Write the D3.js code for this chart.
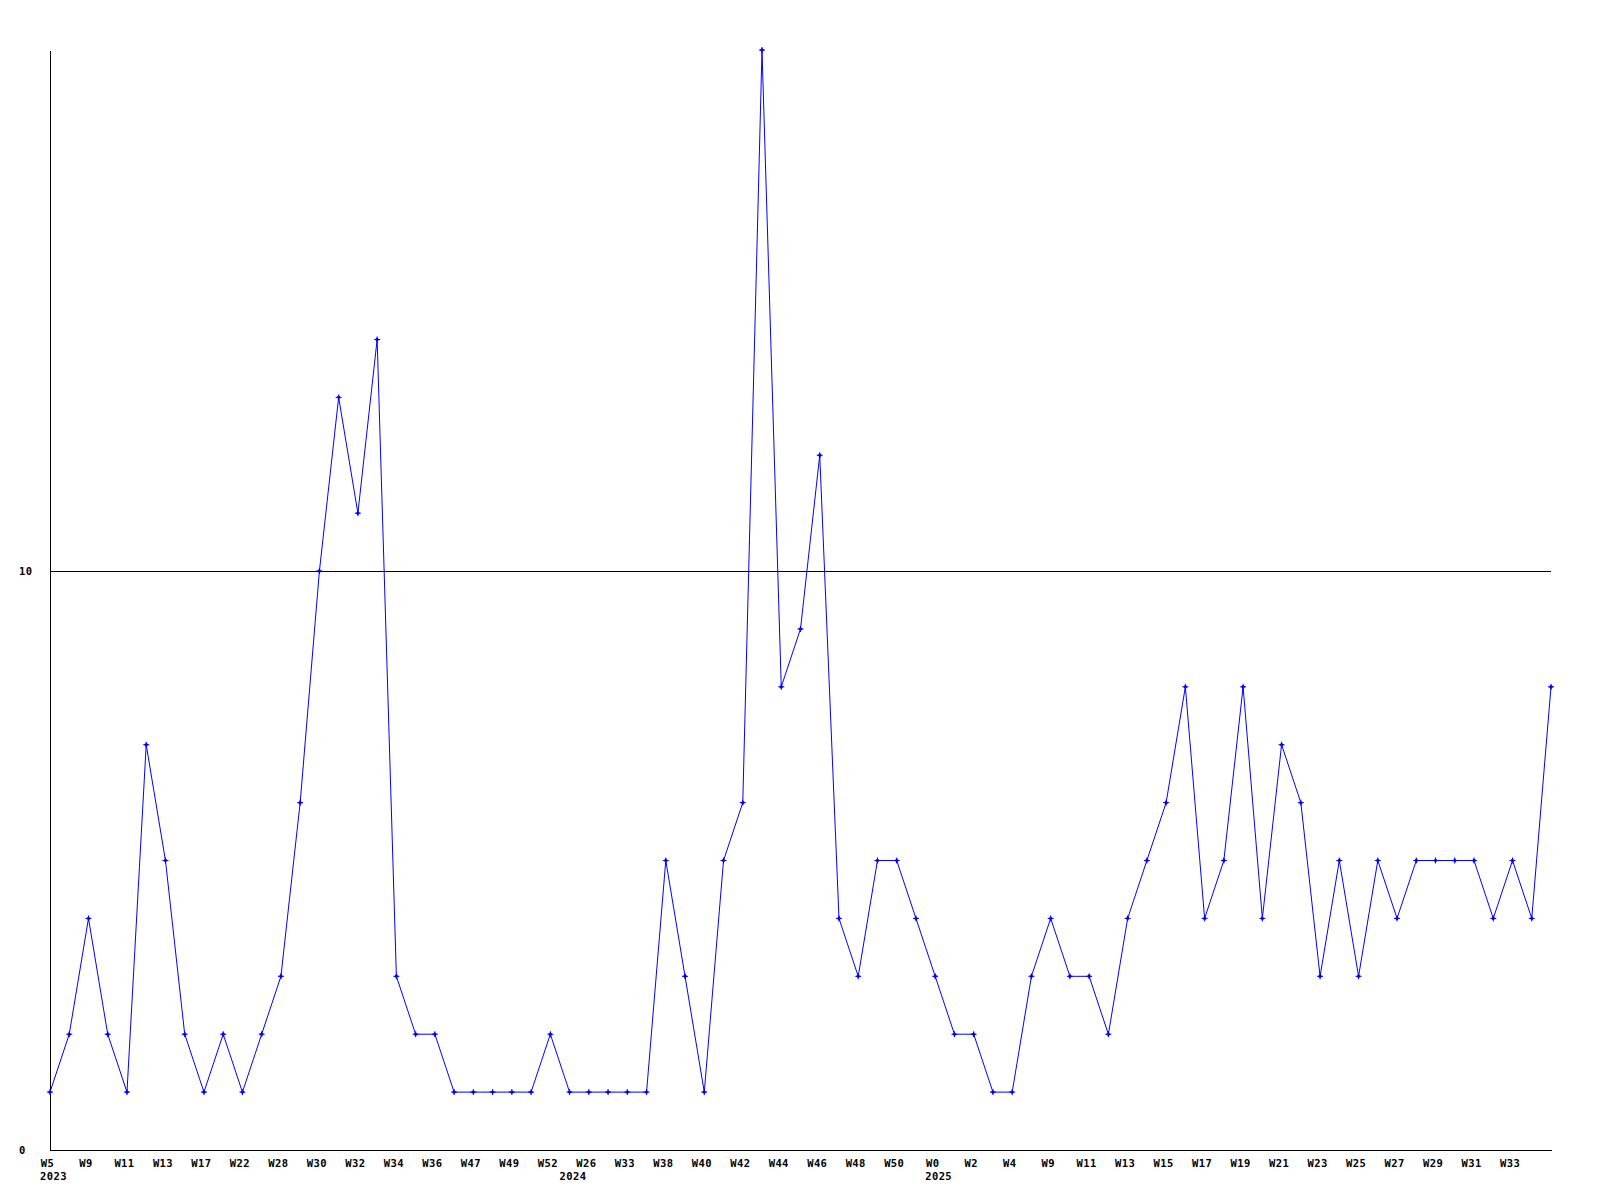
<!DOCTYPE html>
<html>
<head>
<meta charset="utf-8">
<script src="https://cdn.jsdelivr.net/npm/d3@7"></script>
<style>
  html, body { margin: 0; padding: 0; background: #ffffff; }
  svg { display: block; }
  text { font-family: "DejaVu Sans Mono", "Liberation Mono", monospace; font-weight: bold; font-size: 10.5px; letter-spacing: 0.4px; fill: #000; }
</style>
</head>
<body>
<script>
// Weekly values, one per point (79 points)
const values = [
  1, 2, 4, 2, 1, 7, 5, 2, 1, 2,
  1, 2, 3, 6, 10, 13, 11, 14, 3, 2,
  2, 1, 1, 1, 1, 1, 2, 1, 1, 1,
  1, 1, 5, 3, 1, 5, 6, 19, 8, 9,
  12, 4, 3, 5, 5, 4, 3, 2, 2, 1,
  1, 3, 4, 3, 3, 2, 4, 5, 6, 8,
  4, 5, 8, 4, 7, 6, 3, 5, 3, 5,
  4, 5, 5, 5, 5, 4, 5, 4, 8
];
// Tick labels shown on every second point
const tickLabels = [
  "W5", "W9", "W11", "W13", "W17", "W22", "W28", "W30", "W32", "W34",
  "W36", "W47", "W49", "W52", "W26", "W33", "W38", "W40", "W42", "W44",
  "W46", "W48", "W50", "W0", "W2", "W4", "W9", "W11", "W13", "W15",
  "W17", "W19", "W21", "W23", "W25", "W27", "W29", "W31", "W33"
];
// Year labels and the point index where each year starts
const yearLabels = ["2023", "2024", "2025"];
const yearIndex = [0, 27, 46];
// Y axis tick values
const yTicks = [0, 10];

const W = 1600, H = 1200;
const mLeft = 50, mRight = 1551, mTop = 50, mBottom = 1150;

const svg = d3.select("body").append("svg").attr("width", W).attr("height", H);

const x = d3.scaleLinear().domain([0, values.length - 1]).range([mLeft, mRight]);
const y = d3.scaleLinear().domain([0, 19]).range([mBottom, mTop]);

// Y axis with gridline at ticks
const yAxis = d3.axisLeft(y).tickValues(yTicks).tickSizeInner(-(mRight - mLeft)).tickSizeOuter(0).tickFormat(d3.format("d"));
const gy = svg.append("g").attr("transform", `translate(${mLeft},0)`).call(yAxis);
gy.attr("font-size", null).attr("font-family", null);
gy.select(".domain").attr("stroke", "#000").attr("stroke-width", 1).attr("shape-rendering", "crispEdges");
gy.selectAll(".tick line").attr("stroke", "#000").attr("shape-rendering", "crispEdges");
gy.selectAll(".tick text").attr("x", 19 - mLeft).attr("text-anchor", "start").attr("dy", "0.35em");

// X axis
const tickIdx = tickLabels.map((_, i) => i * 2);
const xAxis = d3.axisBottom(x).tickValues(tickIdx).tickSize(0).tickPadding(10)
  .tickFormat((d, i) => tickLabels[i]);
const gx = svg.append("g").attr("transform", `translate(0,${mBottom})`).call(xAxis);
gx.attr("font-size", null).attr("font-family", null);
gx.select(".domain").attr("stroke", "#000").attr("shape-rendering", "crispEdges");
gx.selectAll(".tick text").attr("dy", "0.71em").attr("y", 10).attr("x", -3);

// Year labels
svg.append("g").selectAll("text").data(yearLabels).join("text")
  .attr("x", (d, i) => x(yearIndex[i]) - 10)
  .attr("y", mBottom + 30)
  .attr("text-anchor", "start")
  .text(d => d);

// Line
const line = d3.line().x((d, i) => x(i)).y(d => y(d));
svg.append("path").datum(values)
  .attr("fill", "none").attr("stroke", "#0000ff").attr("stroke-width", 1)
  .attr("d", line);

// Markers
const mk = svg.append("g").selectAll("g").data(values).join("g")
  .attr("transform", (d, i) => `translate(${x(i)},${y(d)})`);
mk.append("path").attr("d", "M-2.2,0L0,-2.2L2.2,0L0,2.2Z").attr("fill", "#0000ff");
mk.append("path").attr("d", "M-3,0H3M0,-3V3").attr("stroke", "#0000ff").attr("stroke-width", 1);
</script>
</body>
</html>
